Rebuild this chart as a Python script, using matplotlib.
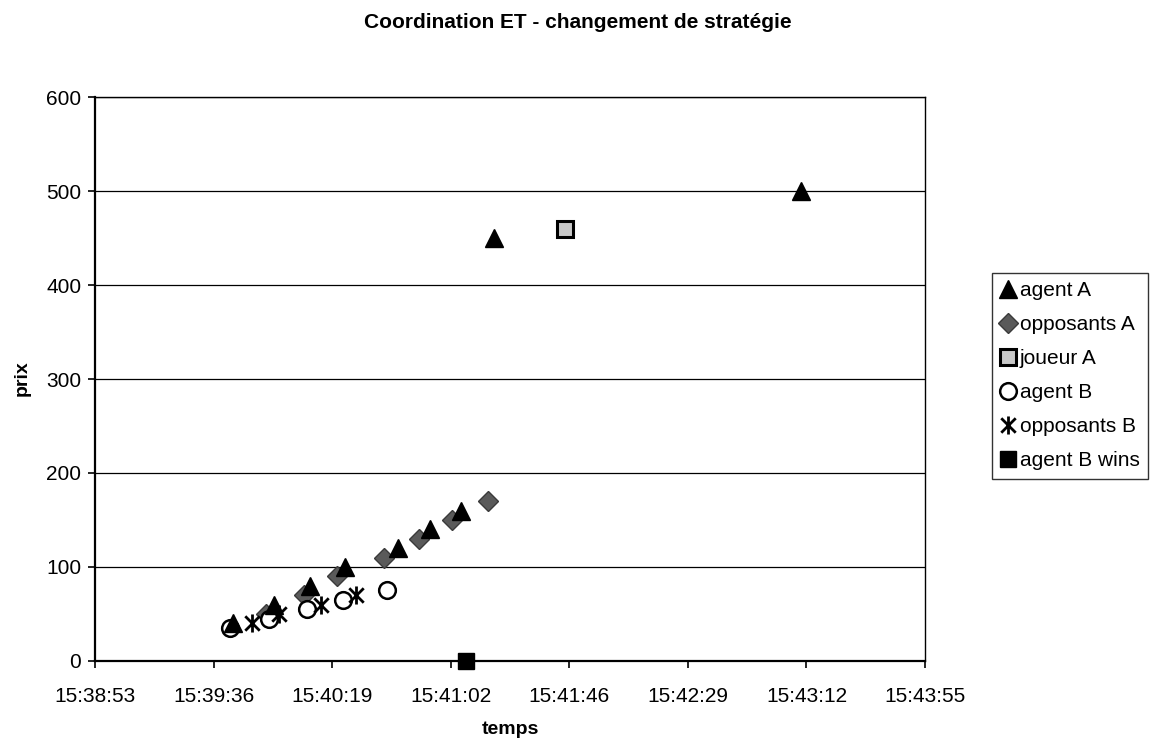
import matplotlib.pyplot as plt
from matplotlib.path import Path

plt.rcParams['font.family'] = ['Liberation Sans', 'DejaVu Sans']

# time stamps (hh:mm:ss) and prices for each series
agentA_t = ['15:39:43', '15:39:58', '15:40:11', '15:40:24', '15:40:43',
            '15:40:55', '15:41:06', '15:41:18', '15:43:10']
agentA_p = [40, 60, 80, 100, 120, 140, 160, 450, 500]

oppA_t = ['15:39:55', '15:40:09', '15:40:21', '15:40:38', '15:40:51',
          '15:41:03', '15:41:16']
oppA_p = [50, 70, 90, 110, 130, 150, 170]

joueurA_t = ['15:41:44']
joueurA_p = [460]

agentB_t = ['15:39:42', '15:39:56', '15:40:10', '15:40:23', '15:40:39']
agentB_p = [35, 45, 55, 65, 75]

oppB_t = ['15:39:50', '15:40:00', '15:40:15', '15:40:28']
oppB_p = [40, 50, 60, 70]

winsB_t = ['15:41:08']
winsB_p = [0]

xtick_labels = ['15:38:53', '15:39:36', '15:40:19', '15:41:02',
                '15:41:46', '15:42:29', '15:43:12', '15:43:55']


def sec(s):
    h, m, x = s.split(':')
    return int(h) * 3600 + int(m) * 60 + int(x)


def secs(lst):
    return [sec(s) for s in lst]


# Excel axis: min 0.652 day, major unit 0.0005 day
x0 = 0.652 * 86400
step = 0.0005 * 86400

# asterisk marker (vertical line + X)
star = Path([(0, -1), (0, 1), (-0.8, -0.8), (0.8, 0.8), (-0.8, 0.8), (0.8, -0.8)],
            [Path.MOVETO, Path.LINETO, Path.MOVETO, Path.LINETO, Path.MOVETO, Path.LINETO])

fig = plt.figure(figsize=(11.55, 7.43), dpi=100)
ax = fig.add_axes([0.0823, 0.1104, 0.7186, 0.759])

ax.plot(secs(agentA_t), agentA_p, ls='none', marker='^', ms=13,
        mfc='black', mec='black', label='agent A', zorder=4)
ax.plot(secs(oppA_t), oppA_p, ls='none', marker='D', ms=10,
        mfc='#5a5a5a', mec='#3a3a3a', label='opposants A', zorder=3)
ax.plot(secs(joueurA_t), joueurA_p, ls='none', marker='s', ms=11, mew=2.2,
        mfc='#c8c8c8', mec='black', label='joueur A', zorder=3)
ax.plot(secs(agentB_t), agentB_p, ls='none', marker='o', ms=12, mew=1.8,
        mfc='white', mec='black', label='agent B', zorder=3)
ax.plot(secs(oppB_t), oppB_p, ls='none', marker=star, ms=13, mew=2,
        mfc='none', mec='black', label='opposants B', zorder=3)
ax.plot(secs(winsB_t), winsB_p, ls='none', marker='s', ms=11,
        mfc='black', mec='black', label='agent B wins', zorder=5, clip_on=False)

ax.set_xlim(x0, x0 + 7 * step)
ax.set_ylim(0, 600)
ax.set_xticks([x0 + i * step for i in range(8)])
ax.set_xticklabels(xtick_labels)
ax.set_yticks(range(0, 601, 100))

ax.yaxis.grid(True, color='black', lw=0.9)
ax.set_axisbelow(True)
for sp in ax.spines.values():
    sp.set_color('black')
    sp.set_linewidth(1.0)
ax.spines['bottom'].set_linewidth(1.6)
ax.spines['left'].set_linewidth(1.6)
ax.tick_params(axis='x', labelsize=15, length=5, width=1.2, pad=14, color='black')
ax.tick_params(axis='y', labelsize=15, length=5, width=1.2, pad=5, color='black')

fig.text(0.5, 0.9623, 'Coordination ET - changement de stratégie',
         ha='center', va='baseline', fontsize=15, fontweight='bold')
fig.text(0.4416, 0.0175, 'temps', ha='center', va='center',
         fontsize=14, fontweight='bold')
fig.text(0.019, 0.491, 'prix', ha='center', va='center', rotation=90,
         fontsize=14, fontweight='bold')

leg = fig.legend(loc='upper left', bbox_to_anchor=(0.859, 0.633),
                 fontsize=15, frameon=True, fancybox=False, numpoints=1,
                 handlelength=0.7, handletextpad=0.2, borderpad=0.42,
                 labelspacing=0.72, borderaxespad=0)
leg.get_frame().set_edgecolor('black')
leg.get_frame().set_linewidth(1.0)

fig.savefig('out.png', dpi=100)
